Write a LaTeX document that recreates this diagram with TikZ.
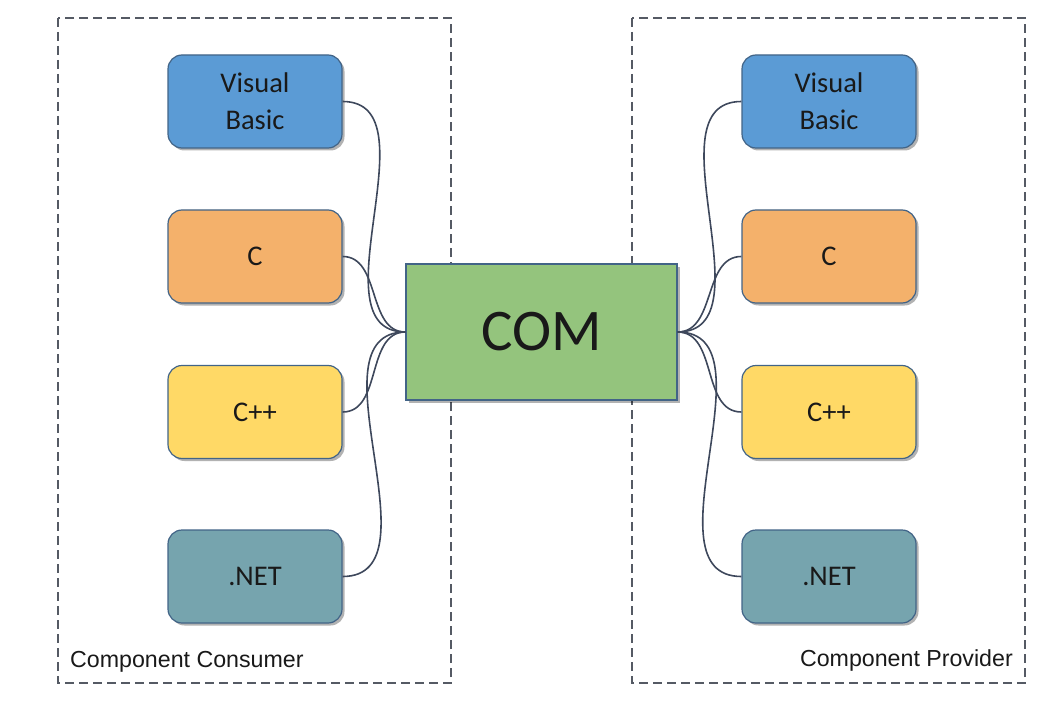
\documentclass[tikz,border=0pt]{standalone}
\usepackage{fontspec}
\setmainfont{Carlito}
\newfontfamily\labelfont{Liberation Sans}
\usetikzlibrary{shadows}

\definecolor{vbcor}{RGB}{91,155,213}
\definecolor{ccor}{RGB}{244,177,107}
\definecolor{cppcor}{RGB}{255,217,102}
\definecolor{netcor}{RGB}{118,164,174}
\definecolor{comcor}{RGB}{148,196,125}
\definecolor{borda}{RGB}{66,100,135}
\definecolor{fio}{RGB}{62,72,92}
\definecolor{tracejado}{RGB}{85,90,100}

\tikzset{
  linguagem/.style={draw=borda, line width=1.2pt, rounded corners=14pt,
    minimum width=174pt, minimum height=93pt, inner sep=0pt, align=center,
    text=black!90, font=\fontsize{28.5}{37}\selectfont,
    drop shadow={shadow xshift=2.5pt, shadow yshift=-2.5pt, opacity=0.3, fill=black}},
  ligacao/.style={draw=fio, line width=1.6pt},
  grupo/.style={draw=tracejado, line width=2pt, dash pattern=on 9pt off 5pt},
  rotulo/.style={font=\labelfont\fontsize{23.2}{27}\selectfont, text=black!90, inner sep=0pt}
}

\begin{document}
\begin{tikzpicture}[x=1pt, y=-1pt]
        \useasboundingbox (0,0) rectangle (1064,703);

        % Desenha os grupos tracejados
        \draw[grupo] (58,18) rectangle (451,683);
        \draw[grupo] (632,18) rectangle (1025,683);

        \node[rotulo, anchor=base west] (consumer) at (70,667) {Component Consumer};
        \node[rotulo, anchor=base east] (provider) at (1013,666) {Component Provider};

        % Nó central
        \node[draw=borda, line width=1.2pt, fill=comcor, minimum width=271pt, minimum height=136pt,
          font=\fontsize{59}{60}\selectfont, text=black!90,
          drop shadow={shadow xshift=2.5pt, shadow yshift=-2.5pt, opacity=0.3, fill=black}]
          (com) at (541.5,332) {COM};

        % Lado do consumidor
        \node[linguagem, fill=vbcor] (vbL) at (255,101.5) {Visual\\Basic};
        \node[linguagem, fill=ccor] (cL) at (255,256.5) {C};
        \node[linguagem, fill=cppcor] (cppL) at (255,412) {C++};
        \node[linguagem, fill=netcor] (netL) at (255,576.5) {.NET};

        % Lado do provedor
        \node[linguagem, fill=vbcor] (vbR) at (829,101.5) {Visual\\Basic};
        \node[linguagem, fill=ccor] (cR) at (829,256.5) {C};
        \node[linguagem, fill=cppcor] (cppR) at (829,412) {C++};
        \node[linguagem, fill=netcor] (netR) at (829,576.5) {.NET};

        \draw[ligacao] (vbL.east) to[out=0, in=180] (com.west);
        \draw[ligacao] (cL.east) to[out=0, in=180] (com.west);
        \draw[ligacao] (cppL.east) to[out=0, in=180] (com.west);
        \draw[ligacao] (netL.east) to[out=0, in=180] (com.west);

        \draw[ligacao] (vbR.west) to[out=180, in=0] (com.east);
        \draw[ligacao] (cR.west) to[out=180, in=0] (com.east);
        \draw[ligacao] (cppR.west) to[out=180, in=0] (com.east);
        \draw[ligacao] (netR.west) to[out=180, in=0] (com.east);
\end{tikzpicture}
\end{document}
